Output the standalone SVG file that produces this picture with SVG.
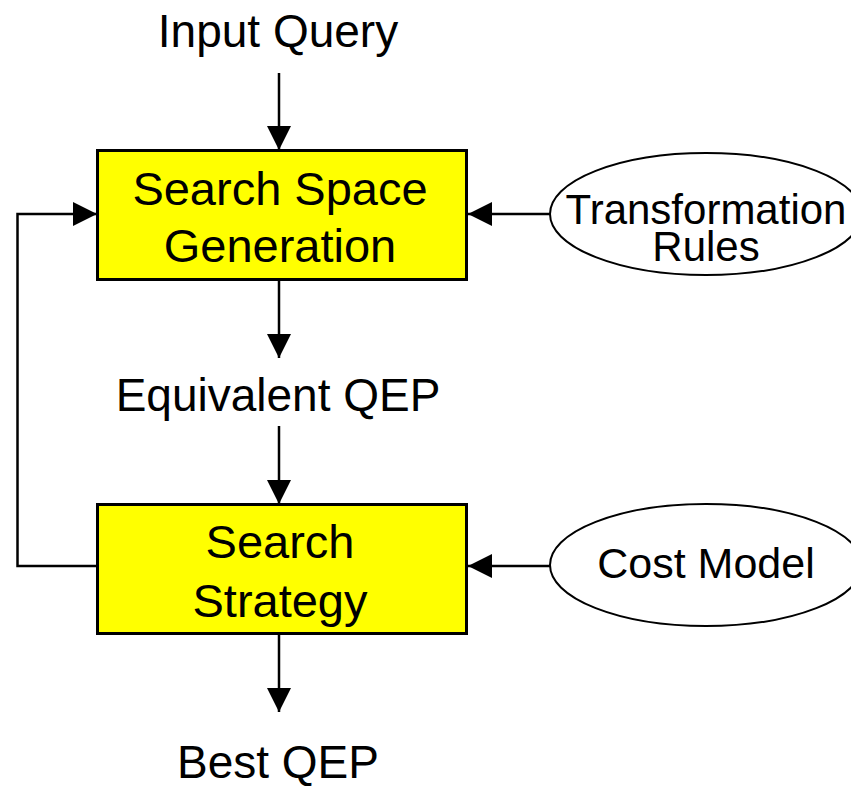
<svg xmlns="http://www.w3.org/2000/svg" width="851" height="786" viewBox="0 0 851 786">
<style>
.t{font-family:"Liberation Sans",Arial,sans-serif;fill:#000;text-anchor:middle}
.box{fill:#ffff00;stroke:#000;stroke-width:3}
.ell{fill:#fff;stroke:#000;stroke-width:2}
.c{fill:none;stroke:#000;stroke-width:2.5}
</style>
<defs>
<marker id="ah" markerUnits="userSpaceOnUse" markerWidth="24" markerHeight="24" viewBox="0 0 22 22" refX="22" refY="11" orient="auto">
<path d="M0,0 L22,11 L0,22 Z" fill="#000"/>
</marker>
</defs>
<rect width="851" height="786" fill="#fff"/>
<g id="connectors">
<path class="c" d="M279,73 V150" marker-end="url(#ah)"/>
<path class="c" d="M279,280 V358" marker-end="url(#ah)"/>
<path class="c" d="M279,426 V504" marker-end="url(#ah)"/>
<path class="c" d="M279,634 V712" marker-end="url(#ah)"/>
<path class="c" d="M550,214 H468" marker-end="url(#ah)"/>
<path class="c" d="M550,566 H468" marker-end="url(#ah)"/>
<path class="c" d="M97,566 H17.5 V214 H97" marker-end="url(#ah)"/>
</g>
<g id="input-query"><text class="t" x="278" y="47" font-size="46">Input Query</text></g>
<g id="search-space-generation">
<rect class="box" x="97.5" y="150.5" width="369" height="129"/>
<text class="t" x="280" y="205" font-size="47">Search Space</text>
<text class="t" x="280" y="262" font-size="47">Generation</text>
</g>
<g id="transformation-rules">
<ellipse class="ell" cx="706" cy="214" rx="156" ry="61"/>
<text class="t" x="706" y="224" font-size="42">Transformation</text>
<text class="t" x="706" y="261" font-size="42">Rules</text>
</g>
<g id="equivalent-qep"><text class="t" x="278" y="411" font-size="46">Equivalent QEP</text></g>
<g id="search-strategy">
<rect class="box" x="97.5" y="504.5" width="369" height="129"/>
<text class="t" x="280" y="558" font-size="47">Search</text>
<text class="t" x="280" y="617" font-size="47">Strategy</text>
</g>
<g id="cost-model">
<ellipse class="ell" cx="706" cy="565" rx="156" ry="61"/>
<text class="t" x="706" y="578" font-size="43">Cost Model</text>
</g>
<g id="best-qep"><text class="t" x="278" y="778" font-size="46">Best QEP</text></g>
</svg>
